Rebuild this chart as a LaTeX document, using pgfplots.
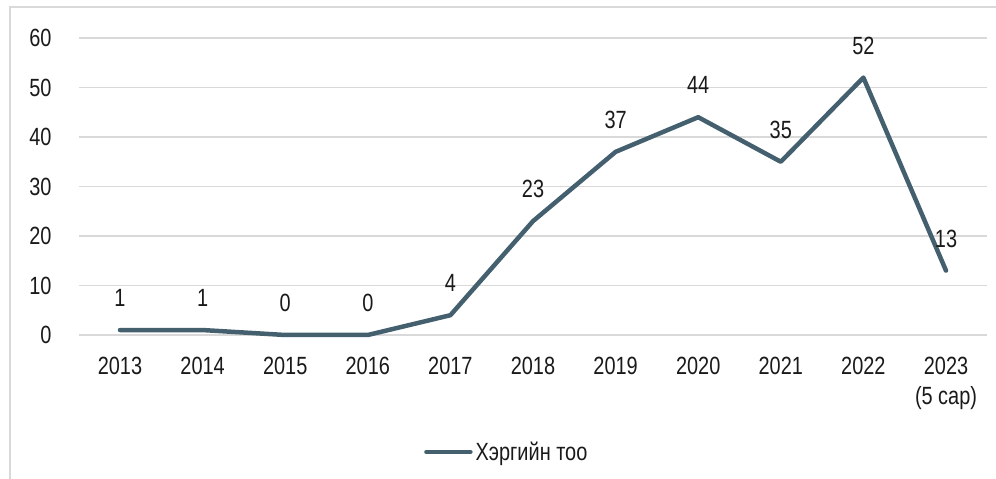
\documentclass[border=0pt]{standalone}
\usepackage{fontspec}
\setmainfont[FakeStretch=0.8]{Liberation Sans}
\usepackage{pgfplots}
\pgfplotsset{compat=1.18}

\definecolor{linecol}{HTML}{44606E}
\definecolor{gridcol}{HTML}{D9D9D9}
\definecolor{txtcol}{HTML}{1A1A1A}

\begin{document}
\begin{tikzpicture}[font=\fontsize{25}{30}\selectfont, text=txtcol]
  \useasboundingbox (0,0) rectangle (996bp,479bp);
  % chart frame, partly cut off
  \draw[gridcol, line width=1.5bp] (10bp,0bp) -- (10bp,472bp) -- (1000bp,472bp);
  \begin{axis}[
      at={(78.7bp,144bp)}, anchor=south west,
      scale only axis,
      width=908.6bp, height=297bp,
      xmin=-0.5, xmax=10.5,
      ymin=0, ymax=60,
      xtick={0,...,10},
      xticklabels={2013,2014,2015,2016,2017,2018,2019,2020,2021,2022,{2023\\(5 cap)}},
      ytick={0,10,...,60},
      ymajorgrids,
      grid style={draw=gridcol, line width=1.3bp},
      axis line style={draw=none},
      major tick length=0pt,
      tick style={draw=none},
      /pgf/number format/assume math mode=true,
      xticklabel style={anchor=north, inner sep=0pt, yshift=-22bp, align=center},
      yticklabel style={anchor=east, inner sep=0pt, xshift=-27bp},
      clip=false,
      nodes near coords,
      every node near coord/.append style={anchor=south, inner sep=0pt, yshift=21bp, text=txtcol},
      legend style={
          at={(0.380,-0.394)}, anchor=west,
          draw=none, fill=none, inner sep=0pt,
          /tikz/every odd column/.append style={column sep=3bp},
          nodes={inner sep=0pt},
      },
      legend image code/.code={
          \draw[#1, line cap=round] (0bp,0bp) -- (44bp,0bp);
      },
  ]
  \addplot[color=linecol, line width=4.5bp, line join=round, line cap=round, mark=none]
    coordinates {(0,1) (1,1) (2,0) (3,0) (4,4) (5,23) (6,37) (7,44) (8,35) (9,52) (10,13)};
  \addlegendentry{Хэргийн тоо}
  \end{axis}
\end{tikzpicture}
\end{document}
